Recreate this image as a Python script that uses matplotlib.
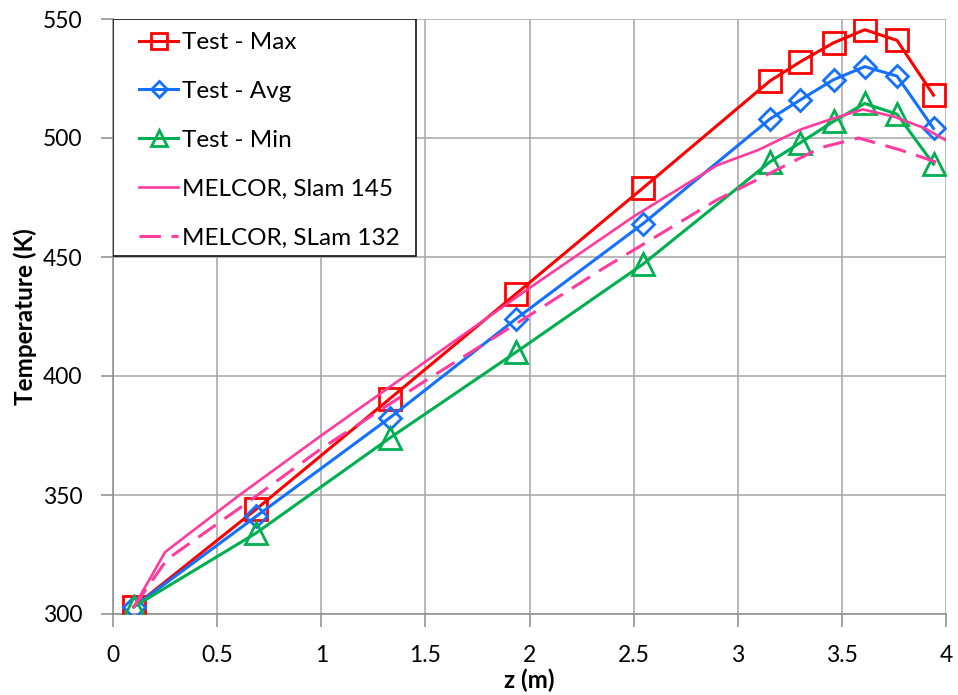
import matplotlib
matplotlib.use('Agg')
import matplotlib.pyplot as plt
from matplotlib.patches import Rectangle

# ---- data ----
z_test = [0.10, 0.687, 1.33, 1.935, 2.545, 3.155, 3.30, 3.46, 3.61, 3.765, 3.94]
t_max = [303, 344, 390.5, 434.5, 479, 524, 532, 540, 545.5, 541, 518]
t_avg = [303, 341, 382.5, 424, 464, 508, 516, 524.5, 530, 526, 504]
t_min = [303, 334, 374, 410, 447, 490, 498, 507, 514.5, 510, 489]

z_m145 = [0.10, 0.25, 0.60, 1.00, 1.50, 2.00, 2.50, 2.90, 3.10, 3.30, 3.45, 3.60, 3.75, 3.90, 4.00]
t_m145 = [303, 326, 349.5, 375, 406, 437, 467, 488.5, 495, 503.5, 508, 512, 509, 504, 499]

z_m132 = [0.10, 0.26, 0.64, 1.00, 1.50, 2.00, 2.35, 2.90, 3.15, 3.40, 3.58, 3.78, 4.00]
t_m132 = [303, 323, 346.5, 369.5, 398, 425.5, 445, 474, 485, 496, 500, 495, 488.5]

labels = ["Test - Max", "Test - Avg", "Test - Min", "MELCOR, Slam 145", "MELCOR, SLam 132"]
x_ticks = [0, 0.5, 1, 1.5, 2, 2.5, 3, 3.5, 4]
x_ticklabels = ["0", "0.5", "1", "1.5", "2", "2.5", "3", "3.5", "4"]
y_ticks = [300, 350, 400, 450, 500, 550]

# ---- style ----
plt.rcParams['font.family'] = ['Lato', 'DejaVu Sans']
FS_TICK = 16.5
FS_LEG = 17.5
FS_LAB = 17.5
RED = '#FF0000'
BLUE = '#1470FF'
GREEN = '#00B050'
PINK = '#FF3C9E'
GRID = '#A6A6A6'

fig = plt.figure(figsize=(9.58, 6.95), dpi=100)
ax = fig.add_axes([113/958, 1-614/695, (946-113)/958, (614-19)/695])

h1, = ax.plot(z_test, t_max, color=RED, lw=2.2, marker='s', ms=15.5, mfc='none', mec=RED, mew=2.0, label=labels[0], zorder=3)
h2, = ax.plot(z_test, t_avg, color=BLUE, lw=2.2, marker='D', ms=11.5, mfc='none', mec=BLUE, mew=2.0, label=labels[1], zorder=3)
h3, = ax.plot(z_test, t_min, color=GREEN, lw=2.2, marker='^', ms=16, mfc='none', mec=GREEN, mew=2.0, label=labels[2], zorder=3)
h4, = ax.plot(z_m145, t_m145, color=PINK, lw=1.9, label=labels[3], zorder=3)
h5, = ax.plot(z_m132, t_m132, color=PINK, lw=2.2, dashes=(7, 3.5), label=labels[4], zorder=3)

ax.set_xlim(0, 4)
ax.set_ylim(300, 550)
ax.set_xticks(x_ticks)
ax.set_xticklabels(x_ticklabels)
ax.set_yticks(y_ticks)
ax.grid(True, color=GRID, lw=1.1, zorder=0)
ax.set_axisbelow(True)
for s in ['top', 'right']:
    ax.spines[s].set_visible(False)
for s in ['left', 'bottom']:
    ax.spines[s].set_color('#8C8C8C')
    ax.spines[s].set_linewidth(1.1)
ax.tick_params(axis='both', direction='out', length=9, width=1.1, color='#8C8C8C',
               labelsize=FS_TICK, pad=13)

ax.set_xlabel('z (m)', fontsize=FS_LAB, fontweight='bold', labelpad=2)
ax.set_ylabel('Temperature (K)', fontsize=FS_LAB, fontweight='bold', labelpad=4)

# legend box
rect = Rectangle((0, 1-(256-19)/595), (416-113)/833, (256-19)/595, transform=ax.transAxes,
                 facecolor='white', edgecolor='black', lw=1.1, zorder=4)
ax.add_patch(rect)
leg = ax.legend(handles=[h1, h2, h3, h4, h5], loc='upper left',
                bbox_to_anchor=((139-113)/833, 1-(32-19)/595), frameon=False,
                fontsize=FS_LEG, handlelength=1.62, handletextpad=0.13, labelspacing=1.15,
                borderpad=0, borderaxespad=0, markerscale=0.72)
leg.set_zorder(5)

fig.savefig('out.png', dpi=100)
